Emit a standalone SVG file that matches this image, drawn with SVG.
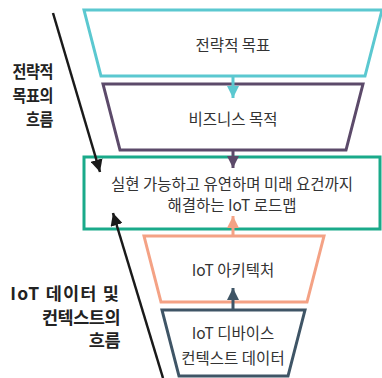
<svg xmlns="http://www.w3.org/2000/svg" width="382" height="378" viewBox="0 0 382 378">
<style>
.box{fill:#fff;stroke-width:3;stroke-linejoin:miter}
.t{font-family:"Noto Sans CJK KR","Noto Sans",sans-serif;font-size:15.5px;fill:#333;text-anchor:middle}
.lb{font-family:"Noto Sans CJK KR","Noto Sans",sans-serif;font-size:17px;font-weight:bold;fill:#222;text-anchor:end;letter-spacing:-0.5px}
</style>
<defs>
<marker id="hc" viewBox="0 0 10 10" refX="10" refY="5" markerWidth="4" markerHeight="4" orient="auto"><path d="M0,0L10,5L0,10z" fill="#5bc8d0"/></marker>
<marker id="hp" viewBox="0 0 10 10" refX="10" refY="5" markerWidth="4" markerHeight="4" orient="auto"><path d="M0,0L10,5L0,10z" fill="#5c4a6a"/></marker>
<marker id="hs" viewBox="0 0 10 10" refX="10" refY="5" markerWidth="4" markerHeight="4" orient="auto"><path d="M0,0L10,5L0,10z" fill="#f4a285"/></marker>
<marker id="hd" viewBox="0 0 10 10" refX="10" refY="5" markerWidth="4" markerHeight="4" orient="auto"><path d="M0,0L10,5L0,10z" fill="#3f5566"/></marker>
<marker id="hk" viewBox="0 0 10 10" refX="10" refY="5" markerWidth="5" markerHeight="5" orient="auto"><path d="M0,0L10,5L0,10z" fill="#1a1a1a"/></marker>
</defs>
<g id="strategic-goal">
<path class="box" d="M84,10L382,10L365,76L101,76Z" stroke="#5bc8d0"/>
<text class="t" x="233" y="51">전략적 목표</text>
</g>
<g id="business-goal">
<path class="box" d="M103,84L363,84L346,150L120,150Z" stroke="#5c4a6a"/>
<text class="t" x="233" y="125">비즈니스 목적</text>
</g>
<g id="roadmap">
<rect class="box" x="84" y="157" width="296" height="72" stroke="#1aaa8a"/>
<text class="t" x="232" y="190">실현 가능하고 유연하며 미래 요건까지</text>
<text class="t" x="232" y="211">해결하는 IoT 로드맵</text>
</g>
<g id="architecture">
<path class="box" d="M144,236L324,236L307,302L161,302Z" stroke="#f4a285"/>
<text class="t" x="233" y="276">IoT 아키텍처</text>
</g>
<g id="device-data">
<path class="box" d="M162,310L305,310L288,376L179,376Z" stroke="#3f5566"/>
<text class="t" x="233" y="339">IoT 디바이스</text>
<text class="t" x="233" y="364">컨텍스트 데이터</text>
</g>
<g id="connectors" fill="none" stroke-width="3">
<line x1="233" y1="77" x2="233" y2="98" stroke="#5bc8d0" marker-end="url(#hc)"/>
<line x1="233" y1="151" x2="233" y2="168" stroke="#5c4a6a" marker-end="url(#hp)"/>
<line x1="233" y1="235" x2="233" y2="216" stroke="#f4a285" marker-end="url(#hs)"/>
<line x1="233" y1="309" x2="233" y2="288" stroke="#3f5566" marker-end="url(#hd)"/>
<line x1="53" y1="13" x2="100" y2="172" stroke="#1a1a1a" stroke-width="2.5" marker-end="url(#hk)"/>
<line x1="163" y1="378" x2="113" y2="213" stroke="#1a1a1a" stroke-width="2.5" marker-end="url(#hk)"/>
</g>
<g id="labels">
<g transform="translate(53,0) scale(0.89,1)">
<text class="lb" x="0" y="78">전략적</text>
<text class="lb" x="0" y="102">목표의</text>
<text class="lb" x="0" y="126">흐름</text>
</g>
<g transform="translate(120,0)">
<text class="lb" x="0" y="300" style="font-size:17.5px;letter-spacing:1.2px">IoT 데이터 및</text>
<text class="lb" x="0" y="324" style="font-size:17.5px">컨텍스트의</text>
<text class="lb" x="0" y="347" style="font-size:17.5px">흐름</text>
</g>
</g>
</svg>
